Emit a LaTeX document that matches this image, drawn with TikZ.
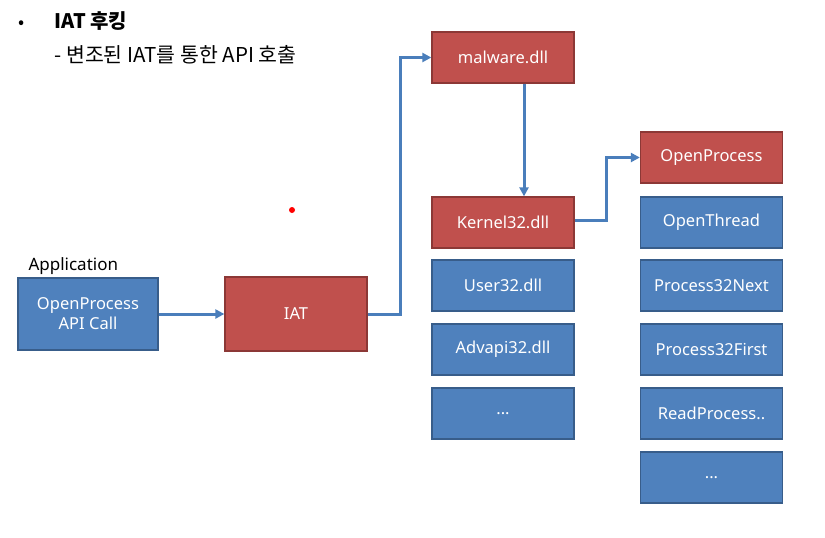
\documentclass[tikz,border=0pt]{standalone}
\usepackage{fontspec}
\setmainfont{Noto Sans}
\newfontfamily\kofont{Noto Sans CJK KR}
\usetikzlibrary{arrows.meta,positioning}
\definecolor{boxblue}{HTML}{4F81BD}
\definecolor{boxblueborder}{HTML}{385D8A}
\definecolor{boxred}{HTML}{C0504D}
\definecolor{boxredborder}{HTML}{8C3836}
\definecolor{arrowblue}{HTML}{4A7EBB}

\begin{document}
\begin{tikzpicture}[
  x=1pt, y=-1pt,
  bluebox/.style={rectangle, draw=boxblueborder, fill=boxblue, line width=1.3pt, text=white, align=center, minimum width=142pt, minimum height=51pt, font=\fontsize{16.5}{20}\selectfont},
  redbox/.style={bluebox, draw=boxredborder, fill=boxred},
  link/.style={draw=arrowblue, line width=3pt, -{Triangle[length=9pt, width=9pt]}}
]

  \path[use as bounding box, fill=white] (0,0) rectangle (825,538);

  % Title
  \node[anchor=base west, font=\kofont\fontsize{18}{20}\selectfont] (bullet) at (15,28) {•};
  \node[anchor=base west, font=\kofont\bfseries\fontsize{20}{24}\selectfont] (title) at (51,28) {IAT 후킹};
  \node[anchor=base west, font=\kofont\fontsize{20.5}{24}\selectfont] (subtitle) at (51,62) {- 변조된 IAT를 통한 API 호출};

  % Application side
  \node[anchor=base west, font=\fontsize{17}{20}\selectfont] (applbl) at (25,270) {Application};
  \node[bluebox, minimum width=140pt, minimum height=72pt] (app) at (88,314) {OpenProcess\\API Call};
  \node[redbox, minimum height=74pt] (iat) at (296,314) {IAT};

  % DLL column
  \node[redbox] (mal) at (503,57.5) {malware.dll};
  \node[redbox] (k32) at (503,222.5) {Kernel32.dll};
  \node[bluebox] (u32) at (503,285.5) {User32.dll};
  \node[bluebox] (adv) at (503,349.5) {Advapi32.dll};
  \node[bluebox] (dllmore) at (503,413.5) {...};

  % Kernel32 function column
  \node[redbox] (openproc) at (711.5,157.5) {OpenProcess};
  \node[bluebox] (openthr) at (711.5,222.5) {OpenThread};
  \node[bluebox] (p32next) at (711.5,285.5) {Process32Next};
  \node[bluebox] (p32first) at (711.5,349.5) {Process32First};
  \node[bluebox] (readproc) at (711.5,413.5) {ReadProcess..};
  \node[bluebox] (fnmore) at (711.5,477.5) {...};

  % Call flow
  \draw[link] (app.east) -- (iat.west);
  \draw[link] (iat.east) -- ++(33,0) |- (mal.west);
  \draw[link] ([xshift=21pt]mal.south) -- ([xshift=21pt]k32.north);
  \draw[link] ([yshift=2pt]k32.east) -- ++(32,0) |- (openproc.west);

  % pointer
  \fill[red] (292,210) circle (3);

\end{tikzpicture}
\end{document}
